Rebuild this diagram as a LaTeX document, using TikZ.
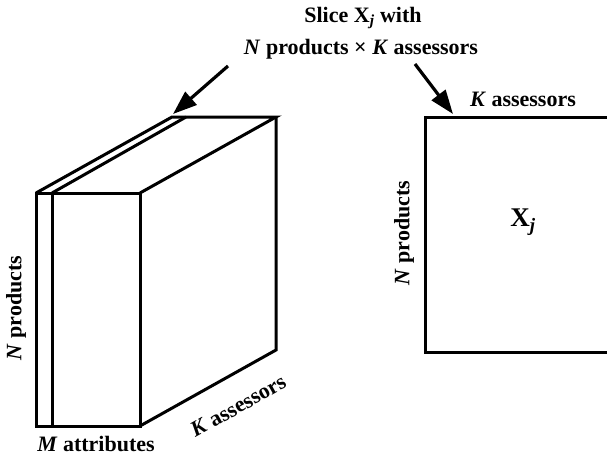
\documentclass[tikz,border=0pt]{standalone}
\usepackage{fontspec}
\setmainfont{Liberation Serif}
\usetikzlibrary{arrows.meta}
\begin{document}
\begin{tikzpicture}[x=1pt,y=-1pt,
  edge/.style={line width=3pt,line join=miter},
  lbl/.style={font=\fontsize{22}{24}\selectfont\bfseries,inner sep=0pt},
  pointer/.style={line width=3.2pt,-{Triangle[length=24pt,width=17pt]}}]
\useasboundingbox (0,0) rectangle (607,455);
% block
\coordinate (fl) at (36,193);
\coordinate (fs) at (52,193);
\coordinate (fr) at (140,193);
\coordinate (bl) at (172,117);
\coordinate (bs) at (186,117);
\coordinate (br) at (276,117);
\coordinate (flb) at (36,426);
\coordinate (fsb) at (52,426);
\coordinate (frb) at (140,426);
\coordinate (brb) at (276,350);
\draw[edge] (fl) -- (fr) -- (frb) -- (flb) -- cycle;
\draw[edge] (fs) -- (fsb);
\draw[edge] (fl) -- (bl) -- (br) -- (fr);
\draw[edge] (fs) -- (bs);
\draw[edge] (br) -- (brb) -- (frb);
% square
\coordinate (sqtr) at (607,117);
\coordinate (sqtl) at (425,117);
\coordinate (sqbl) at (425,352);
\coordinate (sqbr) at (607,352);
\draw[edge] (sqtr) -- (sqtl) -- (sqbl) -- (sqbr);
% labels
\node[lbl] (t1) at (363,18) {Slice X\textsubscript{\textit{j}} with};
\node[lbl] (t2) at (361,49) {\textit{N} products \texttimes{} \textit{K} assessors};
\node[lbl,rotate=90] (np1) at (16,308) {\textit{N} products};
\node[lbl] (ma) at (96,444) {\textit{M} attributes};
\node[lbl,rotate=29.2] (ka1) at (238,406) {\textit{K} assessors};
\node[lbl] (ka2) at (523,99) {\textit{K} assessors};
\node[lbl,rotate=90] (np2) at (404,233) {\textit{N} products};
\node[font=\fontsize{27}{29}\selectfont\bfseries] (xj) at (523,222) {X\textsubscript{\textit{j}}};
% pointers
\coordinate (a1s) at (228,66);
\coordinate (a1e) at (173,114);
\coordinate (a2s) at (415,64);
\coordinate (a2e) at (453,114);
\draw[pointer] (a1s) -- (a1e);
\draw[pointer] (a2s) -- (a2e);
\end{tikzpicture}
\end{document}
